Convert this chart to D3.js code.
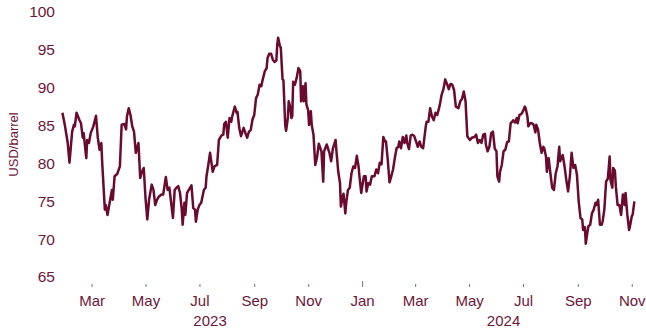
<!DOCTYPE html>
<html>
<head>
<meta charset="utf-8">
<script src="https://cdn.jsdelivr.net/npm/d3@7"></script>
<style>
  body { margin: 0; background: #fff; }
  svg text { font-family: "Liberation Sans", Arial, sans-serif; fill: #6e1638; }
</style>
</head>
<body>
<svg id="chart" width="646" height="331"></svg>
<script>
// Brent crude, daily close (USD per barrel)
const dates = [
  "2023-01-27","2023-01-30","2023-02-02","2023-02-04","2023-02-07","2023-02-09","2023-02-10","2023-02-12","2023-02-15","2023-02-17",
  "2023-02-19","2023-02-20","2023-02-23","2023-02-24","2023-02-26","2023-02-28","2023-03-03","2023-03-06","2023-03-08","2023-03-10",
  "2023-03-12","2023-03-13","2023-03-16","2023-03-17","2023-03-19","2023-03-22","2023-03-24","2023-03-25","2023-03-27","2023-03-30",
  "2023-04-02","2023-04-04","2023-04-07","2023-04-09","2023-04-10","2023-04-12","2023-04-14","2023-04-16","2023-04-18","2023-04-20",
  "2023-04-23","2023-04-25","2023-04-27","2023-04-29","2023-05-01","2023-05-03","2023-05-05","2023-05-08","2023-05-10","2023-05-12",
  "2023-05-14","2023-05-16","2023-05-19","2023-05-21","2023-05-24","2023-05-26","2023-05-28","2023-05-30","2023-06-01","2023-06-03",
  "2023-06-05","2023-06-07","2023-06-09","2023-06-11","2023-06-12","2023-06-14","2023-06-15","2023-06-17","2023-06-19","2023-06-22",
  "2023-06-24","2023-06-26","2023-06-27","2023-06-29","2023-07-01","2023-07-03","2023-07-06","2023-07-08","2023-07-09","2023-07-11",
  "2023-07-13","2023-07-16","2023-07-18","2023-07-21","2023-07-23","2023-07-26","2023-07-28","2023-07-29","2023-07-31","2023-08-02",
  "2023-08-04","2023-08-06","2023-08-07","2023-08-10","2023-08-12","2023-08-13","2023-08-15","2023-08-17","2023-08-20","2023-08-22",
  "2023-08-24","2023-08-26","2023-08-28","2023-08-30","2023-09-01","2023-09-03","2023-09-05","2023-09-07","2023-09-09","2023-09-10",
  "2023-09-13","2023-09-15","2023-09-16","2023-09-18","2023-09-20","2023-09-22","2023-09-24","2023-09-26","2023-09-27","2023-09-28",
  "2023-09-30","2023-10-01","2023-10-03","2023-10-04","2023-10-06","2023-10-07","2023-10-09","2023-10-10","2023-10-12","2023-10-13",
  "2023-10-14","2023-10-15","2023-10-17","2023-10-19","2023-10-21","2023-10-23","2023-10-24","2023-10-26","2023-10-27","2023-10-29",
  "2023-10-30","2023-11-01","2023-11-02","2023-11-04","2023-11-05","2023-11-07","2023-11-09","2023-11-11","2023-11-13","2023-11-16",
  "2023-11-18","2023-11-19","2023-11-22","2023-11-25","2023-11-27","2023-11-29","2023-12-02","2023-12-03","2023-12-05","2023-12-07",
  "2023-12-08","2023-12-10","2023-12-11","2023-12-13","2023-12-14","2023-12-16","2023-12-18","2023-12-20","2023-12-22","2023-12-24",
  "2023-12-26","2023-12-28","2023-12-29","2023-12-31","2024-01-03","2024-01-05","2024-01-06","2024-01-08","2024-01-10","2024-01-12",
  "2024-01-15","2024-01-17","2024-01-19","2024-01-21","2024-01-23","2024-01-25","2024-01-27","2024-01-28","2024-01-30","2024-02-01",
  "2024-02-03","2024-02-05","2024-02-07","2024-02-09","2024-02-11","2024-02-12","2024-02-14","2024-02-16","2024-02-18","2024-02-20",
  "2024-02-21","2024-02-23","2024-02-25","2024-02-27","2024-02-29","2024-03-02","2024-03-04","2024-03-06","2024-03-08","2024-03-10",
  "2024-03-13","2024-03-14","2024-03-16","2024-03-18","2024-03-20","2024-03-22","2024-03-24","2024-03-26","2024-03-28","2024-03-29",
  "2024-03-31","2024-04-02","2024-04-04","2024-04-06","2024-04-08","2024-04-10","2024-04-12","2024-04-14","2024-04-16","2024-04-19",
  "2024-04-21","2024-04-23","2024-04-25","2024-04-27","2024-04-29","2024-04-30","2024-05-02","2024-05-04","2024-05-07","2024-05-09",
  "2024-05-11","2024-05-13","2024-05-15","2024-05-17","2024-05-19","2024-05-20","2024-05-22","2024-05-24","2024-05-26","2024-05-28",
  "2024-05-30","2024-06-01","2024-06-02","2024-06-04","2024-06-05","2024-06-07","2024-06-09","2024-06-11","2024-06-13","2024-06-15",
  "2024-06-17","2024-06-18","2024-06-20","2024-06-22","2024-06-24","2024-06-25","2024-06-27","2024-06-29","2024-07-01","2024-07-03",
  "2024-07-04","2024-07-06","2024-07-07","2024-07-09","2024-07-11","2024-07-13","2024-07-15","2024-07-16","2024-07-18","2024-07-20",
  "2024-07-22","2024-07-24","2024-07-25","2024-07-27","2024-07-28","2024-07-30","2024-08-01","2024-08-03","2024-08-05","2024-08-07",
  "2024-08-09","2024-08-11","2024-08-12","2024-08-15","2024-08-17","2024-08-19","2024-08-21","2024-08-23","2024-08-25","2024-08-27",
  "2024-08-29","2024-08-31","2024-09-02","2024-09-04","2024-09-06","2024-09-07","2024-09-09","2024-09-10","2024-09-12","2024-09-13",
  "2024-09-15","2024-09-17","2024-09-19","2024-09-21","2024-09-22","2024-09-24","2024-09-26","2024-09-28","2024-09-29","2024-10-01",
  "2024-10-03","2024-10-05","2024-10-07","2024-10-08","2024-10-10","2024-10-11","2024-10-13","2024-10-14","2024-10-16","2024-10-18",
  "2024-10-20","2024-10-22","2024-10-24","2024-10-25","2024-10-27","2024-10-29","2024-10-30","2024-11-01","2024-11-02","2024-11-04"
];
const prices = [
  86.7,84.9,82.7,80.1,84.2,85.1,84.9,86.7,85.8,85.3,
  83.4,84.0,80.7,83.1,82.7,84.0,84.9,86.3,83.4,81.8,
  82.7,80.1,73.9,74.5,73.2,75.2,76.5,75.2,78.3,78.6,
  79.6,85.1,85.2,84.5,86.2,87.3,86.4,84.9,84.2,81.4,
  82.7,78.1,78.9,79.4,75.4,72.6,75.2,77.2,76.5,74.5,
  75.2,75.6,75.9,75.9,78.2,76.5,76.8,74.8,72.8,76.5,
  76.8,77.0,76.1,73.9,71.9,74.8,73.2,76.1,76.5,77.1,
  74.1,73.9,72.3,73.9,74.5,74.8,76.5,76.8,78.3,79.8,
  81.4,78.9,79.6,79.8,83.1,83.7,83.8,85.2,85.5,83.4,
  86.0,85.5,86.2,87.5,86.7,86.8,84.7,83.6,84.7,84.0,
  83.4,84.2,84.4,85.8,86.4,88.6,89.1,90.4,90.2,90.8,
  92.2,92.6,93.9,94.5,94.5,93.7,93.4,93.6,95.7,96.6,
  95.5,95.3,91.1,91.0,85.1,84.3,86.0,88.2,87.3,86.0,
  86.2,90.8,90.4,91.3,92.6,92.2,88.2,90.2,88.2,90.6,
  87.8,87.0,85.1,86.9,85.1,83.8,79.8,80.8,82.6,81.6,
  77.6,81.6,82.5,81.4,80.3,82.0,83.1,81.6,78.9,77.4,
  74.3,75.6,76.0,73.4,74.8,76.5,76.8,78.7,79.6,79.4,
  81.0,79.6,78.3,76.1,78.3,78.3,76.3,77.4,77.2,78.3,
  78.3,79.2,78.7,80.1,79.9,83.5,82.9,82.9,80.5,77.5,
  78.3,79.2,80.7,82.0,82.2,82.9,82.0,83.5,82.7,83.7,
  82.7,81.9,83.7,83.8,83.6,82.9,82.2,82.9,82.2,82.0,
  84.9,85.5,85.5,87.3,86.2,85.7,86.7,86.4,87.3,87.8,
  89.1,89.8,91.1,90.5,89.8,90.5,90.4,89.7,87.5,87.3,
  88.2,88.5,89.5,88.2,83.6,83.4,83.1,83.4,83.5,83.8,
  82.7,83.1,82.7,83.8,83.9,82.5,81.6,82.2,84.0,84.2,
  82.0,81.6,78.3,77.6,78.9,79.8,81.6,81.8,82.8,82.9,
  85.3,85.4,85.7,85.4,86.0,85.3,86.4,86.5,86.9,87.5,
  87.3,86.2,84.9,85.3,85.3,85.1,84.1,85.1,84.5,82.7,
  81.4,82.2,82.0,80.9,78.9,80.7,78.7,76.8,76.5,78.7,
  79.6,82.2,80.3,81.1,79.6,77.8,76.3,78.3,81.4,79.4,
  79.8,78.5,75.0,72.8,72.6,71.2,71.6,69.4,71.0,71.7,
  71.9,73.4,73.9,74.8,74.5,75.2,71.9,71.9,72.3,73.9,
  77.6,78.0,80.9,77.8,76.8,79.4,79.0,77.0,74.5,74.5,
  73.2,75.9,74.5,76.1,73.2,71.2,71.7,73.0,73.2,75.0
];
const yTicks = [65, 70, 75, 80, 85, 90, 95, 100];
const monthTicks = [
  "2023-03-01","2023-05-01","2023-07-01","2023-09-01","2023-11-01",
  "2024-01-01","2024-03-01","2024-05-01","2024-07-01","2024-09-01","2024-11-01"
];
const years = ["2023", "2024"];
const yTitle = "USD/barrel";

const ink = "#6e1638";
const lineColor = "#6a0a2e";

const svg = d3.select("#chart");
const plot = { left: 58, right: 645, top: 12, bottom: 277 };

const parse = d3.utcParse("%Y-%m-%d");
const series = dates.map((d, i) => ({ date: parse(d), value: prices[i] }));

const x = d3.scaleUtc()
  .domain([parse("2023-01-22"), parse("2024-11-16")])
  .range([plot.left, plot.right]);
const y = d3.scaleLinear()
  .domain([65, 100])
  .range([plot.bottom, plot.top]);

// y axis: labels only
const yAxis = svg.append("g")
  .attr("transform", `translate(${plot.left},0)`)
  .call(d3.axisLeft(y).tickValues(yTicks).tickSize(0).tickPadding(3));
yAxis.select(".domain").remove();
yAxis.selectAll("text")
  .style("font-size", "15.5px")
  .attr("fill", ink);

// x axis: small month ticks, longer tick at the year boundary
const axisY = 284;
const xAxis = svg.append("g")
  .attr("transform", `translate(0,${axisY})`)
  .call(d3.axisBottom(x)
    .tickValues(monthTicks.map(parse))
    .tickSize(3)
    .tickPadding(8)
    .tickFormat(d3.utcFormat("%b")));
xAxis.select(".domain").remove();
xAxis.selectAll(".tick line")
  .attr("stroke", "#8a6a76")
  .attr("y1", d => d.getUTCMonth() === 0 ? -3 : 0);
xAxis.selectAll("text")
  .style("font-size", "15px")
  .attr("fill", ink);

// year labels, centred under each year's visible span
const [d0, d1] = x.domain();
years.forEach(yr => {
  const start = new Date(Date.UTC(+yr, 0, 1));
  const end = new Date(Date.UTC(+yr + 1, 0, 1));
  const a = x(start < d0 ? d0 : start);
  const b = x(end > d1 ? d1 : end);
  svg.append("text")
    .attr("x", (a + b) / 2)
    .attr("y", 326)
    .attr("text-anchor", "middle")
    .style("font-size", "15px")
    .attr("fill", ink)
    .text(yr);
});

// y axis title
svg.append("text")
  .attr("transform", `translate(18,${(plot.top + plot.bottom) / 2}) rotate(-90)`)
  .attr("text-anchor", "middle")
  .style("font-size", "13px")
  .attr("fill", ink)
  .text(yTitle);

// price line
svg.append("path")
  .datum(series)
  .attr("fill", "none")
  .attr("stroke", lineColor)
  .attr("stroke-width", 2.5)
  .attr("stroke-linejoin", "round")
  .attr("d", d3.line().x(d => x(d.date)).y(d => y(d.value)));
</script>
</body>
</html>
